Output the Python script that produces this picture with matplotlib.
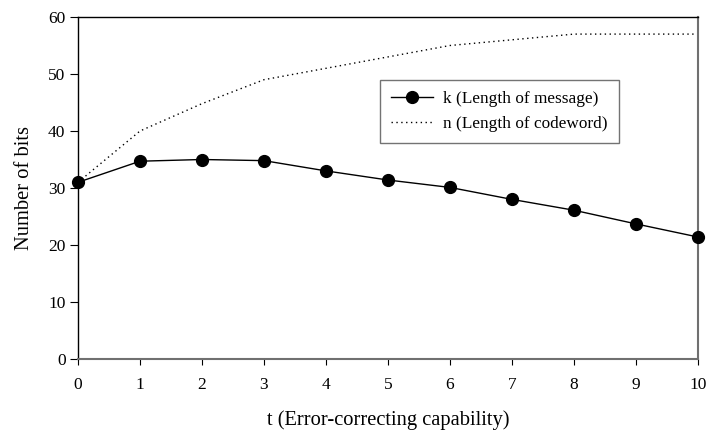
import matplotlib
matplotlib.use("Agg")
import matplotlib.pyplot as plt

t = [0, 1, 2, 3, 4, 5, 6, 7, 8, 9, 10]
k_vals = [31, 34.7, 35.0, 34.8, 33.0, 31.4, 30.1, 28.0, 26.1, 23.7, 21.4]
n_vals = [31, 40, 44.8, 49, 51, 53, 55, 56, 57, 57, 57]
x_ticks = [0, 1, 2, 3, 4, 5, 6, 7, 8, 9, 10]
y_ticks = [0, 10, 20, 30, 40, 50, 60]

plt.rcParams['font.family'] = ['Liberation Serif', 'DejaVu Serif']

fig = plt.figure(figsize=(7.11, 4.32), dpi=100)
ax = fig.add_axes([78/711, 1 - 359/432, (698-78)/711, (359-17)/432])

ax.plot(t, k_vals, color='black', lw=1.0, marker='o', markersize=8.5,
        label='k (Length of message)', zorder=3, clip_on=False)
ax.plot(t, n_vals, color='black', lw=1.0, linestyle=(0, (1, 2.5)),
        label='n (Length of codeword)', zorder=2)

ax.set_xlim(0, 10)
ax.set_ylim(0, 60)
ax.set_xticks(x_ticks)
ax.set_yticks(y_ticks)
ax.tick_params(axis='both', direction='out', labelsize=12.5, colors='black')
ax.tick_params(axis='x', length=4, pad=9)
ax.tick_params(axis='y', length=6, pad=3)

ax.spines['left'].set_color('black')
ax.spines['top'].set_color('black')
ax.spines['bottom'].set_color('#707070')
ax.spines['right'].set_color('#707070')
for s in ax.spines.values():
    s.set_linewidth(1.0)
ax.spines['bottom'].set_linewidth(1.5)
ax.spines['right'].set_linewidth(1.5)

ax.set_xlabel('t (Error-correcting capability)', fontsize=14.8, labelpad=12.5)
ax.set_ylabel('Number of bits', fontsize=14.8, labelpad=10)

leg = ax.legend(loc='upper left', bbox_to_anchor=((380-78)/620, (359-80)/342),
                fontsize=12.4, frameon=True, fancybox=False, borderpad=0.65,
                handlelength=2.4, handletextpad=0.6, labelspacing=0.5,
                borderaxespad=0)
leg.get_frame().set_edgecolor('#505050')
leg.get_frame().set_linewidth(1.0)

fig.savefig('out.png', dpi=100)
